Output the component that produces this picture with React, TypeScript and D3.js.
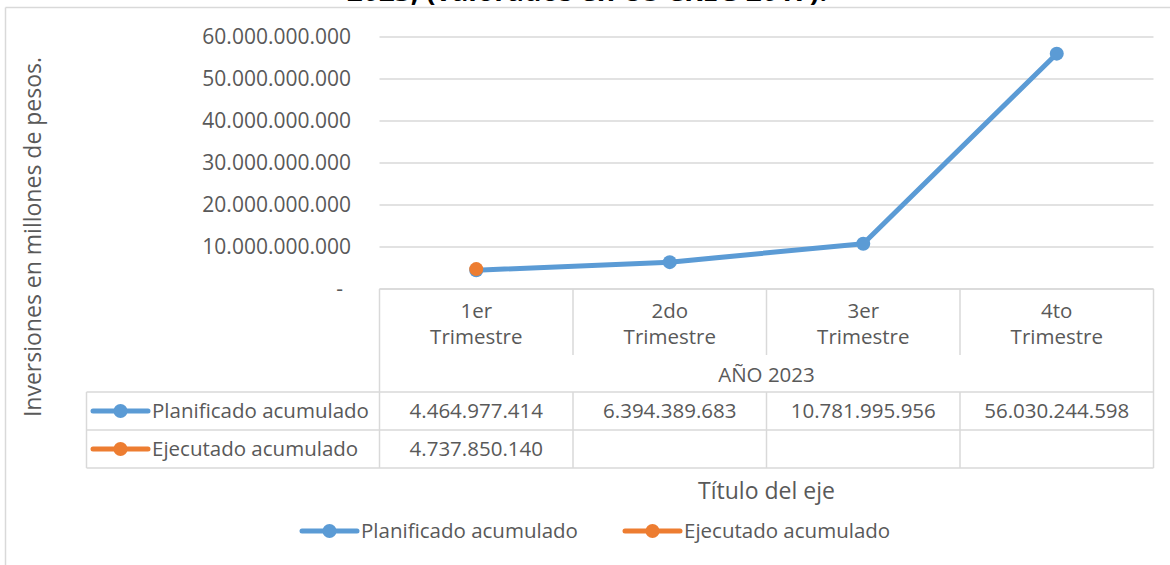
import React from "react";
import * as d3 from "d3";

const categories = ["1er Trimestre", "2do Trimestre", "3er Trimestre", "4to Trimestre"];
const groupLabel = "AÑO 2023";
const planificado = [4464977414, 6394389683, 10781995956, 56030244598];
const ejecutado: (number | null)[] = [4737850140, null, null, null];
const seriesNames = ["Planificado acumulado", "Ejecutado acumulado"];
const yTicks = [0, 10e9, 20e9, 30e9, 40e9, 50e9, 60e9];
const title = "2023, (valorados en US CREG 2017).";
const yTitle = "Inversiones en millones de pesos.";
const xTitle = "Título del eje";

const W = 1170, H = 565;
const FONT = "'Open Sans', 'Noto Sans', sans-serif";
const TXT = "#595959";
const GRID = "#d9d9d9";
const BLUE = "#5b9bd5";
const ORANGE = "#ed7d31";

const locale = d3.formatLocale({ decimal: ",", thousands: ".", grouping: [3], currency: ["$", ""] });
const fmt = locale.format(",.0f");

export default function App() {
  const x = d3.scaleBand<string>().domain(categories).range([379.5, 1153.5]).padding(0);
  const y = d3.scaleLinear().domain([0, 60e9]).range([289, 37]);
  const cx = (c: string) => (x(c) as number) + x.bandwidth() / 2;
  const line = d3
    .line<[number, number]>()
    .x((d) => d[0])
    .y((d) => d[1]);
  const planPts: [number, number][] = categories.map((c, i) => [cx(c), y(planificado[i])]);
  const ejePts = categories
    .map((c, i) => (ejecutado[i] == null ? null : ([cx(c), y(ejecutado[i] as number)] as [number, number])))
    .filter((d) => d != null) as [number, number][];

  const left = x.range()[0];
  const right = x.range()[1];
  const tableTop = 289;
  const headSepBottom = 355;
  const row1Top = 392;
  const row2Top = 430;
  const row3Top = 468;
  const tableLeft = 86.5;
  const fs = 20.5;

  const legendKey = (x0: number, yy: number, color: string) => (
    <g>
      <line x1={x0} x2={x0 + 55} y1={yy} y2={yy} stroke={color} strokeWidth={5} strokeLinecap="round" />
      <circle cx={x0 + 27.5} cy={yy} r={7} fill={color} />
    </g>
  );

  return (
    <div style={{ position: "absolute", left: 0, top: 0, width: W, height: H, background: "#fff" }}>
      <svg width={W} height={H} style={{ display: "block" }}>
        <rect x={0} y={0} width={W} height={H} fill="#fff" />
        {/* title, cut off at top */}
        <text x={587} y={0.5} textAnchor="middle" fontFamily={FONT} fontWeight="bold" fontSize={28} fill="#000">
          {title}
        </text>
        {/* chart border */}
        <line x1={5.5} x2={W} y1={7.5} y2={7.5} stroke={GRID} strokeWidth={1.5} />
        <line x1={5.5} x2={5.5} y1={7.5} y2={H} stroke={GRID} strokeWidth={1.5} />

        {/* gridlines */}
        {yTicks.map((t) => (
          <line key={"g" + t} x1={left} x2={right} y1={y(t)} y2={y(t)} stroke={GRID} strokeWidth={1.5} />
        ))}
        {/* y tick labels */}
        {yTicks.map((t) => (
          <text
            key={"t" + t}
            x={t === 0 ? 343 : 351}
            y={y(t)}
            dy="0.35em"
            textAnchor="end"
            fontFamily={FONT}
            fontSize={21}
            fill={TXT}
          >
            {t === 0 ? "-" : fmt(t)}
          </text>
        ))}
        {/* y axis title */}
        <text
          transform={`translate(33,237) rotate(-90)`}
          textAnchor="middle"
          dy="0.35em"
          fontFamily={FONT}
          fontSize={23}
          fill={TXT}
        >
          {yTitle}
        </text>

        {/* data table lines */}
        <g stroke={GRID} strokeWidth={1.5}>
          <line x1={left} x2={right} y1={tableTop} y2={tableTop} />
          {categories.map((c, i) =>
            i === 0 ? null : (
              <line key={"vs" + c} x1={x(c)} x2={x(c)} y1={tableTop} y2={headSepBottom} />
            )
          )}
          {categories.map((c, i) =>
            i === 0 ? null : (
              <line key={"vr" + c} x1={x(c)} x2={x(c)} y1={row1Top} y2={row3Top} />
            )
          )}
          <line x1={left} x2={left} y1={tableTop} y2={row3Top} />
          <line x1={right} x2={right} y1={tableTop} y2={row3Top} />
          <line x1={tableLeft} x2={tableLeft} y1={row1Top} y2={row3Top} />
          <line x1={tableLeft} x2={right} y1={row1Top} y2={row1Top} />
          <line x1={tableLeft} x2={right} y1={row2Top} y2={row2Top} />
          <line x1={tableLeft} x2={right} y1={row3Top} y2={row3Top} />
        </g>

        {/* category labels */}
        {categories.map((c) => {
          const parts = c.split(" ");
          return (
            <text key={"c" + c} x={cx(c)} textAnchor="middle" fontFamily={FONT} fontSize={fs} fill={TXT}>
              <tspan x={cx(c)} y={318}>{parts[0]}</tspan>
              <tspan x={cx(c)} y={344}>{parts[1]}</tspan>
            </text>
          );
        })}
        <text x={(left + right) / 2} y={382} textAnchor="middle" fontFamily={FONT} fontSize={fs} fill={TXT}>
          {groupLabel}
        </text>

        {/* table rows */}
        {legendKey(93, 411, BLUE)}
        <text x={152} y={411} dy="0.35em" fontFamily={FONT} fontSize={fs} fill={TXT}>
          {seriesNames[0]}
        </text>
        {legendKey(93, 449, ORANGE)}
        <text x={152} y={449} dy="0.35em" fontFamily={FONT} fontSize={fs} fill={TXT}>
          {seriesNames[1]}
        </text>
        {categories.map((c, i) => (
          <text key={"p" + c} x={cx(c)} y={411} dy="0.35em" textAnchor="middle" fontFamily={FONT} fontSize={fs} fill={TXT}>
            {fmt(planificado[i])}
          </text>
        ))}
        {categories.map((c, i) =>
          ejecutado[i] == null ? null : (
            <text key={"e" + c} x={cx(c)} y={449} dy="0.35em" textAnchor="middle" fontFamily={FONT} fontSize={fs} fill={TXT}>
              {fmt(ejecutado[i] as number)}
            </text>
          )
        )}

        {/* series */}
        <path d={line(planPts) || ""} fill="none" stroke={BLUE} strokeWidth={5} strokeLinejoin="round" strokeLinecap="round" />
        {planPts.map((p, i) => (
          <circle key={"pp" + i} cx={p[0]} cy={p[1]} r={7} fill={BLUE} />
        ))}
        {ejePts.length > 1 && (
          <path d={line(ejePts) || ""} fill="none" stroke={ORANGE} strokeWidth={5} />
        )}
        {ejePts.map((p, i) => (
          <circle key={"ep" + i} cx={p[0]} cy={p[1]} r={7} fill={ORANGE} />
        ))}

        {/* x axis title */}
        <text x={(left + right) / 2} y={491} dy="0.35em" textAnchor="middle" fontFamily={FONT} fontSize={23} fill={TXT}>
          {xTitle}
        </text>

        {/* legend */}
        {legendKey(302, 531, BLUE)}
        <text x={361} y={531} dy="0.35em" fontFamily={FONT} fontSize={fs} fill={TXT}>
          {seriesNames[0]}
        </text>
        {legendKey(625, 531, ORANGE)}
        <text x={684} y={531} dy="0.35em" fontFamily={FONT} fontSize={fs} fill={TXT}>
          {seriesNames[1]}
        </text>
      </svg>
    </div>
  );
}
